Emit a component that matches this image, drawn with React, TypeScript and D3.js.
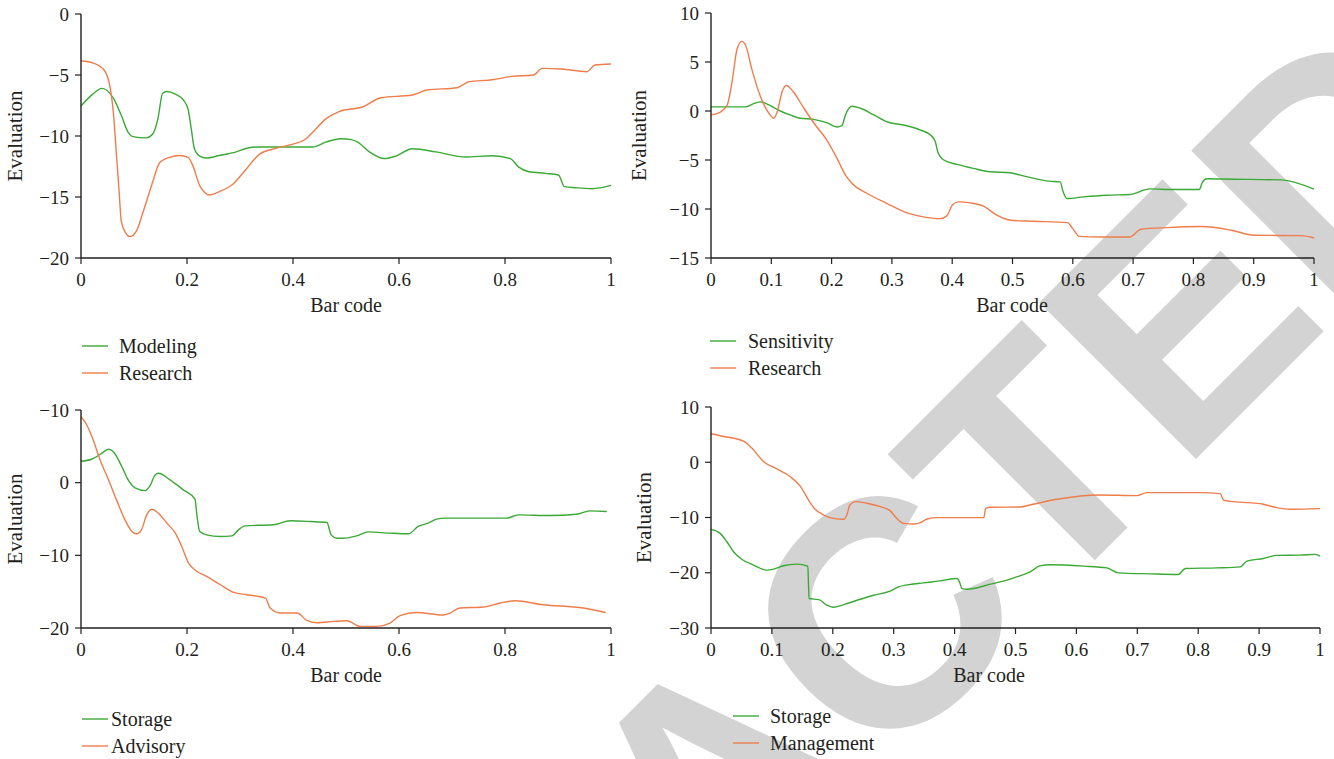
import * as d3 from 'd3';

const GREEN = '#3aa935';
const ORANGE = '#ef7d4b';
const AXIS = '#231f20';
const FONT = "'Liberation Serif', 'DejaVu Serif', serif";

type Pt = [number, number];

// top-left panel
const modeling: Pt[] = [[0,-7.55],[0.02,-6.65],[0.04,-6.1],[0.061,-6.9],[0.076,-8.3],[0.089,-9.7],[0.098,-10.05],[0.123,-10.15],[0.136,-9.8],[0.145,-8.6],[0.154,-6.5],[0.162,-6.35],[0.177,-6.55],[0.194,-7.1],[0.202,-7.8],[0.208,-9.4],[0.214,-11.05],[0.224,-11.65],[0.236,-11.8],[0.261,-11.6],[0.293,-11.3],[0.315,-10.98],[0.337,-10.9],[0.4,-10.9],[0.437,-10.9],[0.462,-10.5],[0.49,-10.22],[0.51,-10.3],[0.522,-10.5],[0.544,-11.3],[0.572,-11.85],[0.594,-11.65],[0.625,-11.05],[0.669,-11.3],[0.726,-11.72],[0.776,-11.62],[0.81,-11.85],[0.826,-12.55],[0.845,-12.93],[0.876,-13.06],[0.901,-13.2],[0.912,-14.15],[0.933,-14.24],[0.964,-14.32],[1.0,-14.05]];
const research1: Pt[] = [[0,-3.83],[0.023,-4.02],[0.042,-4.5],[0.053,-5.6],[0.061,-8.06],[0.067,-11.6],[0.072,-14.6],[0.076,-17.0],[0.085,-18.0],[0.092,-18.25],[0.105,-17.75],[0.117,-16.25],[0.133,-14.07],[0.149,-12.16],[0.167,-11.75],[0.186,-11.6],[0.202,-11.75],[0.211,-12.43],[0.224,-14.07],[0.243,-14.84],[0.261,-14.56],[0.287,-13.93],[0.312,-12.7],[0.337,-11.48],[0.368,-11.01],[0.4,-10.66],[0.424,-10.25],[0.437,-9.7],[0.462,-8.6],[0.487,-8.0],[0.532,-7.6],[0.566,-6.86],[0.625,-6.64],[0.653,-6.23],[0.71,-6.04],[0.732,-5.55],[0.776,-5.39],[0.813,-5.11],[0.854,-5.0],[0.87,-4.46],[0.907,-4.51],[0.954,-4.73],[0.97,-4.18],[1.0,-4.1]];

// top-right panel
const sensitivity: Pt[] = [[0,0.42],[0.057,0.42],[0.071,0.76],[0.083,0.93],[0.096,0.62],[0.115,0.0],[0.131,-0.4],[0.148,-0.74],[0.17,-0.85],[0.192,-1.19],[0.209,-1.63],[0.217,-1.49],[0.223,-0.4],[0.234,0.48],[0.248,0.28],[0.27,-0.4],[0.294,-1.15],[0.319,-1.43],[0.347,-1.94],[0.364,-2.45],[0.372,-3.13],[0.376,-4.15],[0.386,-5.0],[0.408,-5.45],[0.435,-5.86],[0.463,-6.2],[0.496,-6.3],[0.513,-6.55],[0.56,-7.16],[0.579,-7.23],[0.584,-8.25],[0.59,-8.93],[0.618,-8.76],[0.656,-8.59],[0.695,-8.52],[0.728,-7.95],[0.767,-8.01],[0.81,-8.01],[0.814,-7.4],[0.822,-6.92],[0.866,-6.96],[0.946,-7.03],[1.0,-7.98]];
const research2: Pt[] = [[0,-0.4],[0.015,-0.13],[0.027,0.62],[0.035,3.0],[0.043,6.25],[0.051,7.1],[0.057,6.76],[0.068,4.2],[0.082,1.47],[0.096,-0.23],[0.104,-0.74],[0.11,-0.06],[0.118,1.99],[0.125,2.6],[0.137,1.92],[0.154,0.28],[0.173,-1.43],[0.192,-2.96],[0.209,-4.84],[0.223,-6.54],[0.234,-7.39],[0.259,-8.42],[0.292,-9.44],[0.325,-10.4],[0.352,-10.8],[0.38,-10.98],[0.391,-10.7],[0.4,-9.61],[0.41,-9.27],[0.43,-9.37],[0.452,-9.71],[0.474,-10.63],[0.497,-11.15],[0.536,-11.25],[0.591,-11.39],[0.6,-12.0],[0.611,-12.79],[0.647,-12.86],[0.694,-12.86],[0.713,-12.07],[0.757,-11.9],[0.813,-11.79],[0.863,-12.17],[0.901,-12.68],[0.979,-12.72],[1.0,-12.96]];

// bottom-left panel
const storageA: Pt[] = [[0,2.95],[0.02,3.22],[0.039,4.04],[0.052,4.6],[0.061,4.27],[0.077,2.21],[0.089,0.38],[0.102,-0.72],[0.121,-1.09],[0.13,-0.45],[0.14,1.07],[0.146,1.3],[0.168,0.38],[0.193,-0.99],[0.215,-2.28],[0.219,-4.66],[0.224,-6.72],[0.237,-7.18],[0.263,-7.41],[0.285,-7.32],[0.297,-6.49],[0.31,-5.94],[0.363,-5.8],[0.395,-5.25],[0.433,-5.35],[0.464,-5.48],[0.472,-7.18],[0.483,-7.64],[0.495,-7.64],[0.52,-7.32],[0.542,-6.77],[0.583,-6.95],[0.618,-7.04],[0.636,-6.03],[0.655,-5.57],[0.671,-5.02],[0.687,-4.88],[0.753,-4.88],[0.803,-4.88],[0.825,-4.43],[0.885,-4.52],[0.935,-4.34],[0.96,-3.88],[0.992,-3.97]];
const advisory: Pt[] = [[0,9.08],[0.011,7.94],[0.023,5.88],[0.036,3.13],[0.052,0.38],[0.067,-2.37],[0.083,-5.12],[0.096,-6.72],[0.105,-7.04],[0.114,-6.49],[0.124,-4.43],[0.134,-3.65],[0.146,-4.2],[0.162,-5.57],[0.178,-6.95],[0.19,-8.78],[0.203,-11.07],[0.219,-12.22],[0.237,-12.9],[0.263,-14.05],[0.288,-15.1],[0.313,-15.42],[0.348,-15.88],[0.357,-17.26],[0.376,-17.94],[0.408,-17.94],[0.426,-18.95],[0.445,-19.27],[0.477,-19.09],[0.502,-19.0],[0.527,-19.78],[0.558,-19.78],[0.583,-19.32],[0.602,-18.3],[0.633,-17.86],[0.684,-18.22],[0.696,-17.94],[0.715,-17.25],[0.759,-17.12],[0.791,-16.56],[0.819,-16.25],[0.872,-16.8],[0.948,-17.25],[0.99,-17.86]];

// bottom-right panel
const storageB: Pt[] = [[0,-12.15],[0.015,-12.87],[0.026,-14.39],[0.037,-16.2],[0.051,-17.6],[0.07,-18.62],[0.092,-19.53],[0.103,-19.35],[0.119,-18.74],[0.141,-18.44],[0.159,-18.8],[0.16,-21.65],[0.161,-24.67],[0.177,-24.86],[0.19,-25.88],[0.201,-26.25],[0.218,-25.76],[0.24,-24.98],[0.267,-24.07],[0.294,-23.34],[0.308,-22.56],[0.322,-22.19],[0.349,-21.83],[0.376,-21.47],[0.404,-21.04],[0.408,-21.65],[0.412,-22.86],[0.42,-22.98],[0.459,-22.07],[0.491,-21.16],[0.502,-20.74],[0.524,-19.84],[0.54,-18.75],[0.557,-18.56],[0.612,-18.8],[0.65,-19.11],[0.669,-20.02],[0.721,-20.2],[0.767,-20.31],[0.779,-19.22],[0.831,-19.11],[0.869,-18.93],[0.88,-17.9],[0.907,-17.41],[0.929,-16.86],[0.968,-16.81],[0.992,-16.68],[1.0,-16.99]];
const management: Pt[] = [[0,5.16],[0.021,4.67],[0.054,3.77],[0.067,2.56],[0.086,0.14],[0.108,-1.2],[0.13,-2.59],[0.147,-4.4],[0.16,-6.82],[0.171,-8.52],[0.185,-9.55],[0.201,-10.15],[0.218,-10.33],[0.223,-9.55],[0.228,-7.73],[0.237,-7.13],[0.256,-7.43],[0.278,-8.03],[0.294,-8.76],[0.305,-10.15],[0.316,-11.06],[0.333,-11.18],[0.344,-10.94],[0.355,-10.27],[0.371,-10.03],[0.404,-10.03],[0.448,-10.03],[0.451,-8.34],[0.459,-8.15],[0.508,-8.09],[0.524,-7.73],[0.568,-6.7],[0.639,-5.92],[0.699,-6.04],[0.716,-5.5],[0.803,-5.5],[0.836,-5.68],[0.842,-6.88],[0.858,-7.13],[0.907,-7.6],[0.929,-8.22],[0.951,-8.51],[1.0,-8.4]];

const xTicksFifth = [0, 0.2, 0.4, 0.6, 0.8, 1];
const xTicksTenth = [0, 0.1, 0.2, 0.3, 0.4, 0.5, 0.6, 0.7, 0.8, 0.9, 1];
const yTicks1 = [0, -5, -10, -15, -20];
const yTicks2 = [10, 5, 0, -5, -10, -15];
const yTicks3 = [10, 0, -10, -20];
// the source figure prints the top tick of this panel as "−10"
const yTickLabels3 = ['\u221210', '0', '\u221210', '\u221220'];
const yTicks4 = [10, 0, -10, -20, -30];

const fmt = (v: number) => (v < 0 ? '\u2212' + Math.abs(v) : String(v));

type Series = { name: string; color: string; data: Pt[] };

function Panel({
  x0, x1, y0, y1, yDomain, xTicks, yTicks, yLabels, series, titleX, xLabelX, legendX, legendTextX, legendY,
}: {
  x0: number; x1: number; y0: number; y1: number;
  yDomain: [number, number];
  xTicks: number[]; yTicks: number[]; yLabels?: string[];
  series: Series[];
  titleX: number; xLabelX: number; legendX: number; legendTextX: number; legendY: number;
}) {
  const x = d3.scaleLinear().domain([0, 1]).range([x0, x1]);
  const y = d3.scaleLinear().domain(yDomain).range([y1, y0]);
  const line = d3
    .line<Pt>()
    .x((d) => x(d[0]))
    .y((d) => y(d[1]))
    .curve(d3.curveMonotoneX);

  return (
    <g>
      {series.map((s) => (
        <path key={s.name} d={line(s.data) ?? ''} fill="none" stroke={s.color} strokeWidth={1.4} />
      ))}
      <line x1={x0} x2={x0} y1={y0} y2={y1} stroke={AXIS} strokeWidth={1.4} />
      <line x1={x0} x2={x1} y1={y1} y2={y1} stroke={AXIS} strokeWidth={1.4} />
      {yTicks.map((t, i) => (
        <g key={'y' + i}>
          <line x1={x0 - 6} x2={x0} y1={y(t)} y2={y(t)} stroke={AXIS} strokeWidth={1.2} />
          <text x={x0 - 12} y={y(t)} dy="0.35em" textAnchor="end" fontSize={19} fill={AXIS}>
            {yLabels ? yLabels[i] : fmt(t)}
          </text>
        </g>
      ))}
      {xTicks.map((t, i) => (
        <g key={'x' + i}>
          <line x1={x(t)} x2={x(t)} y1={y1} y2={y1 + 6} stroke={AXIS} strokeWidth={1.2} />
          <text x={x(t)} y={y1 + 28} textAnchor="middle" fontSize={19} fill={AXIS}>
            {fmt(t)}
          </text>
        </g>
      ))}
      <text
        transform={`translate(${titleX}, ${(y0 + y1) / 2}) rotate(-90)`}
        textAnchor="middle"
        fontSize={21}
        fill={AXIS}
      >
        Evaluation
      </text>
      <text x={xLabelX} y={y1 + 54} textAnchor="middle" fontSize={20} fill={AXIS}>
        Bar code
      </text>
      {series.map((s, i) => (
        <g key={'lg' + s.name}>
          <line x1={legendX} x2={legendX + 26} y1={legendY + i * 27} y2={legendY + i * 27} stroke={s.color} strokeWidth={1.4} />
          <text x={legendTextX} y={legendY + i * 27} dy="0.33em" fontSize={20} fill={AXIS}>
            {s.name}
          </text>
        </g>
      ))}
    </g>
  );
}

export default function App() {
  return (
    <svg
      width={1334}
      height={759}
      style={{ position: 'absolute', left: 0, top: 0, background: '#fff' }}
      fontFamily={FONT}
    >
      {/* diagonal watermark of the source figure, lying under the plots */}
      <text
        transform="translate(795, 860) rotate(-45)"
        x={0}
        y={0}
        textAnchor="middle"
        fontFamily="'Liberation Sans', Arial, sans-serif"
        fontWeight="bold"
        fontSize={322}
        fill="#d3d3d3"
      >
        RETRACTED
      </text>
      <Panel
        x0={81} x1={611} y0={14} y1={258} yDomain={[-20, 0]}
        xTicks={xTicksFifth} yTicks={yTicks1}
        series={[{ name: 'Modeling', color: GREEN, data: modeling }, { name: 'Research', color: ORANGE, data: research1 }]}
        titleX={22} xLabelX={346} legendX={82} legendTextX={119} legendY={346}
      />
      <Panel
        x0={711} x1={1314} y0={13} y1={258} yDomain={[-15, 10]}
        xTicks={xTicksTenth} yTicks={yTicks2}
        series={[{ name: 'Sensitivity', color: GREEN, data: sensitivity }, { name: 'Research', color: ORANGE, data: research2 }]}
        titleX={646} xLabelX={1012} legendX={710} legendTextX={748} legendY={341}
      />
      <Panel
        x0={81} x1={611} y0={410} y1={628} yDomain={[-20, 10]}
        xTicks={xTicksFifth} yTicks={yTicks3} yLabels={yTickLabels3}
        series={[{ name: 'Storage', color: GREEN, data: storageA }, { name: 'Advisory', color: ORANGE, data: advisory }]}
        titleX={22} xLabelX={346} legendX={82} legendTextX={111} legendY={719}
      />
      <Panel
        x0={711} x1={1320} y0={407} y1={628} yDomain={[-30, 10]}
        xTicks={xTicksTenth} yTicks={yTicks4}
        series={[{ name: 'Storage', color: GREEN, data: storageB }, { name: 'Management', color: ORANGE, data: management }]}
        titleX={651} xLabelX={989} legendX={733} legendTextX={770} legendY={716}
      />
    </svg>
  );
}
